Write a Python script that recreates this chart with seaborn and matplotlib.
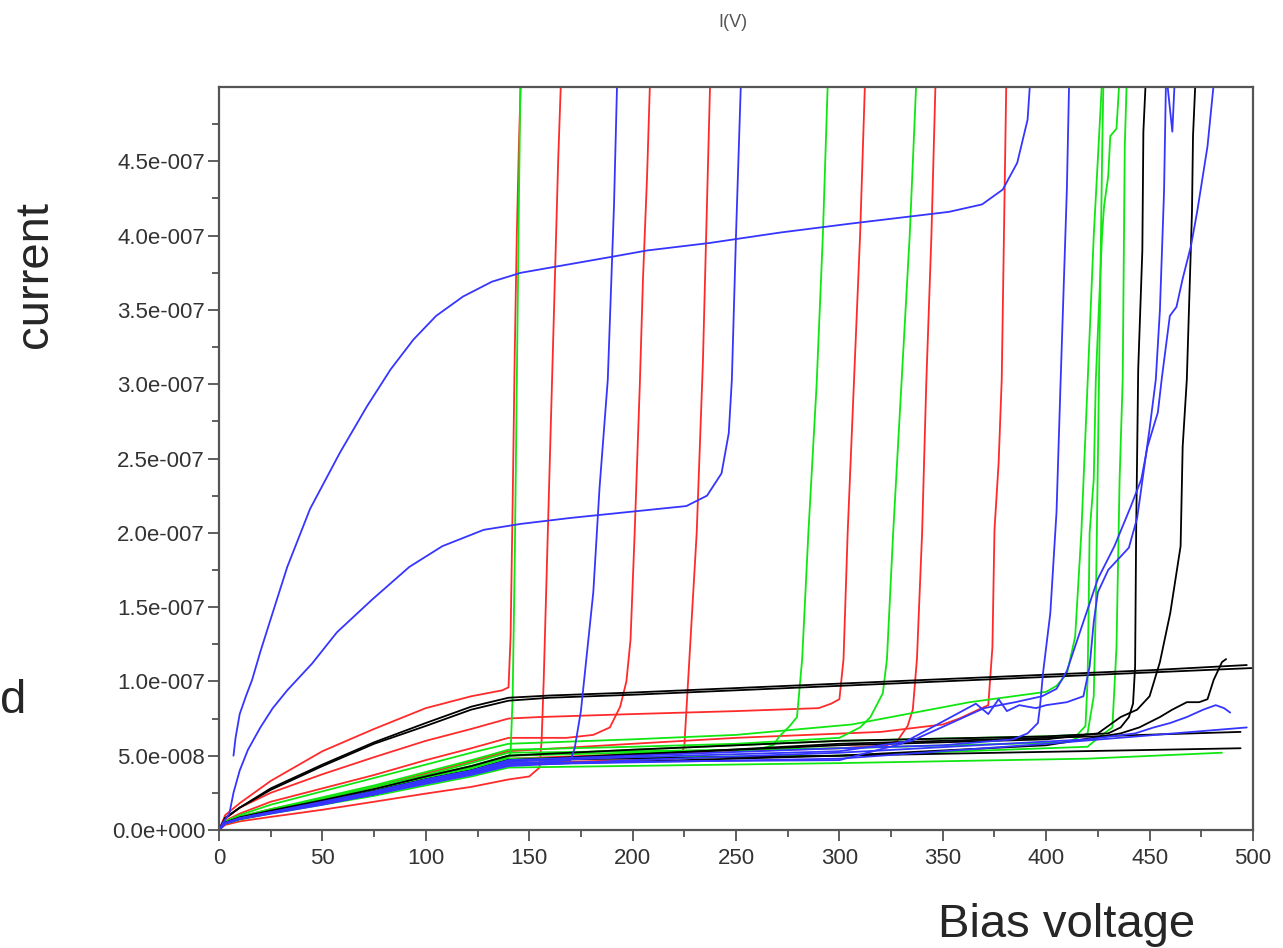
import matplotlib
matplotlib.use("Agg")
import numpy as np
import pandas as pd
import matplotlib.pyplot as plt
import seaborn as sns
from matplotlib.ticker import MultipleLocator, FixedLocator, FuncFormatter

# rise part of every curve is sampled on the same voltage steps
rise_v = [0, 3, 10, 25, 50, 75, 100, 122, 140]

# current values in units of 1e-7 A
r1_v = rise_v[:-1] + [137, 140, 141, 142, 143, 144, 145, 146.5]
r1_i = [0, 0.1, 0.18, 0.33, 0.53, 0.68, 0.82, 0.9, 0.94, 0.96, 1.3, 2.2, 3.2, 4.0, 4.6, 5.3]

k1_v = rise_v + [160, 200, 250, 300, 350, 400, 450, 500]
k1_i = [0, 0.08, 0.15, 0.27, 0.43, 0.58, 0.7, 0.81, 0.87, 0.89, 0.91, 0.94, 0.97, 1.0, 1.03, 1.06, 1.09]
k2_v = rise_v + [160, 200, 250, 300, 350, 400, 450, 497]
k2_i = [0, 0.08, 0.15, 0.28, 0.44, 0.59, 0.72, 0.83, 0.89, 0.905, 0.925, 0.955, 0.985, 1.015, 1.045, 1.075, 1.11]

r5_v = rise_v + [155, 200, 250, 290, 296, 300, 302, 304, 307, 310, 313]
r5_i = [0, 0.075, 0.15, 0.25, 0.375, 0.49, 0.6, 0.68, 0.75, 0.76, 0.78, 0.8, 0.82, 0.85, 0.88, 1.15, 2.0, 3.0, 4.0, 5.3]

r3_v = rise_v + [168, 181, 189, 194, 197, 199, 201, 203.5, 205, 207, 209]
r3_i = [0, 0.062, 0.11, 0.19, 0.28, 0.37, 0.47, 0.55, 0.62, 0.62, 0.64, 0.69, 0.83, 1.0, 1.28, 2.0, 3.0, 3.7, 4.4, 5.3]

gd_v = rise_v + [200, 250, 306, 363, 400, 405, 410, 414, 417, 420, 423, 428]
gd_i = [0, 0.058, 0.1, 0.17, 0.26, 0.35, 0.44, 0.52, 0.58, 0.61, 0.64, 0.71, 0.86, 0.93, 0.97, 1.05, 1.3, 2.0, 3.0, 4.0, 5.3]

g3_v = rise_v + [200, 250, 300, 310, 315, 321, 323, 326, 330, 334, 338]
g3_i = [0, 0.054, 0.09, 0.14, 0.22, 0.3, 0.39, 0.47, 0.54, 0.56, 0.58, 0.62, 0.69, 0.76, 0.92, 1.15, 2.0, 3.0, 4.0, 5.3]

r7_v = rise_v + [200, 250, 320, 350, 358, 372, 374, 375, 377, 378.5, 381]
r7_i = [0, 0.053, 0.09, 0.14, 0.21, 0.29, 0.38, 0.46, 0.53, 0.58, 0.62, 0.66, 0.71, 0.75, 0.84, 1.23, 2.02, 2.47, 3.03, 5.3]

r6_v = rise_v + [200, 300, 323, 328, 333, 335.5, 337.5, 340, 342, 344.5, 347]
r6_i = [0, 0.048, 0.08, 0.125, 0.19, 0.265, 0.345, 0.41, 0.48, 0.51, 0.55, 0.57, 0.6, 0.7, 0.81, 1.15, 2.0, 3.0, 4.0, 5.3]

r4_v = rise_v + [200, 220, 223, 225, 226, 228, 231, 234, 236.5, 238]
r4_i = [0, 0.045, 0.077, 0.117, 0.18, 0.25, 0.32, 0.39, 0.45, 0.47, 0.48, 0.5, 0.56, 0.8, 1.28, 2.0, 3.15, 4.5, 5.3]

r2_v = rise_v + [150, 155, 156, 157, 158, 160, 162, 164, 166]
r2_i = [0, 0.034, 0.058, 0.088, 0.136, 0.19, 0.245, 0.29, 0.34, 0.36, 0.42, 0.6, 1.0, 1.5, 2.5, 3.5, 4.5, 5.3]

g1_v = rise_v + [141, 142, 143, 144, 145, 146]
g1_i = [0, 0.049, 0.083, 0.127, 0.196, 0.27, 0.35, 0.42, 0.49, 0.52, 0.9, 1.8, 3.0, 4.2, 5.3]

b3_v = rise_v + [160, 170, 172, 175, 178, 181, 184, 188, 191, 193]
b3_i = [0, 0.044, 0.075, 0.114, 0.176, 0.24, 0.32, 0.38, 0.44, 0.46, 0.47, 0.55, 0.8, 1.2, 1.6, 2.3, 3.03, 4.2, 5.3]

g2_v = rise_v + [200, 260, 268, 271, 276, 279.5, 282, 285, 289, 292, 295]
g2_i = [0, 0.05, 0.085, 0.13, 0.2, 0.275, 0.36, 0.43, 0.5, 0.52, 0.54, 0.57, 0.63, 0.7, 0.76, 1.15, 2.0, 3.0, 4.0, 5.3]

b1_v = [7, 8, 10, 13, 16, 20, 25, 33, 44, 58.5, 71.5, 83, 94, 105, 118, 132, 146, 191, 207, 237, 271,
        305, 353, 369, 379, 386, 391, 393.5]
b1_i = [0.5, 0.62, 0.78, 0.9, 1.01, 1.2, 1.42, 1.77, 2.16, 2.54, 2.85, 3.1, 3.3, 3.46, 3.59, 3.69, 3.75,
        3.86, 3.9, 3.95, 4.02, 4.08, 4.16, 4.21, 4.31, 4.49, 4.78, 5.3]

b2_v = [0, 2, 5, 7, 10, 14, 20, 26, 33, 45, 57, 74, 92, 108, 128, 146, 170, 205, 226, 236, 243, 246.5,
        248, 250, 253]
b2_i = [0, 0.05, 0.11, 0.25, 0.4, 0.54, 0.69, 0.82, 0.94, 1.12, 1.33, 1.55, 1.77, 1.91, 2.02, 2.06,
        2.1, 2.15, 2.18, 2.25, 2.4, 2.67, 3.03, 4.0, 5.3]

b4_v = rise_v + [200, 300, 350, 384, 391, 396, 397, 398.5, 402, 405, 407, 410, 411.5]
b4_i = [0, 0.047, 0.08, 0.12, 0.19, 0.26, 0.34, 0.4, 0.47, 0.5, 0.55, 0.57, 0.61, 0.65, 0.72, 0.83,
        1.06, 1.46, 2.14, 3.03, 4.31, 5.3]

b5_v = rise_v + [200, 300, 330, 366, 372, 377, 381, 387, 395, 400, 410, 418, 421, 423, 425, 430, 440,
                 444, 447, 450, 453, 455, 457, 458, 461, 463]
b5_i = [0, 0.045, 0.077, 0.117, 0.18, 0.25, 0.32, 0.39, 0.45, 0.46, 0.47, 0.58, 0.85, 0.78, 0.88, 0.8,
        0.84, 0.82, 0.84, 0.86, 0.9, 1.1, 1.4, 1.6, 1.75, 1.9, 2.1, 2.4, 2.7, 3.03, 3.5, 4.3, 5.1, 4.7, 5.3]

b6_v = rise_v + [200, 300, 335, 370, 385, 398, 405, 410, 417, 425, 433, 441, 446, 449, 454, 456, 459.8,
                 463, 466, 470, 473, 478, 483]
b6_i = [0, 0.046, 0.078, 0.12, 0.18, 0.25, 0.33, 0.39, 0.46, 0.49, 0.53, 0.6, 0.82, 0.86, 0.9, 0.95,
        1.07, 1.36, 1.69, 1.91, 2.18, 2.36, 2.58, 2.81, 3.05, 3.46, 3.52, 3.71, 3.93, 4.16, 4.6, 5.3]

ge_v = rise_v + [200, 300, 400, 415, 419, 420, 420.5, 421, 423, 424, 427, 428, 430, 431, 434, 436.5]
ge_i = [0, 0.05, 0.085, 0.13, 0.2, 0.275, 0.36, 0.43, 0.5, 0.54, 0.6, 0.63, 0.64, 0.7, 1.0, 1.46, 2.0,
        2.36, 3.03, 4.0, 4.2, 4.4, 4.67, 4.72, 5.3]

gf_v = rise_v + [200, 300, 410, 420, 423, 424, 425, 426, 427, 428]
gf_i = [0, 0.052, 0.088, 0.135, 0.21, 0.29, 0.37, 0.45, 0.52, 0.53, 0.55, 0.59, 0.65, 0.9, 1.5, 2.5,
        3.5, 4.5, 5.3]

gg_v = rise_v + [200, 300, 420, 426, 432, 434, 435.5, 437, 438, 439.5]
gg_i = [0, 0.048, 0.08, 0.125, 0.19, 0.265, 0.345, 0.41, 0.48, 0.49, 0.5, 0.56, 0.63, 0.69, 1.23,
        2.36, 3.03, 4.6, 5.3]

ka_v = rise_v + [200, 300, 400, 430, 436, 440, 442, 443, 443.5, 444.5, 446.5, 447, 449]
ka_i = [0, 0.05, 0.085, 0.13, 0.2, 0.275, 0.36, 0.43, 0.5, 0.54, 0.6, 0.63, 0.65, 0.69, 0.76, 0.85,
        1.1, 2.0, 3.1, 3.9, 4.7, 5.3]

kb_v = rise_v + [200, 300, 400, 425, 429, 436, 444, 450, 455, 460, 465, 466, 468, 470.5, 471, 473]
kb_i = [0, 0.047, 0.08, 0.12, 0.19, 0.26, 0.34, 0.4, 0.47, 0.51, 0.57, 0.61, 0.65, 0.69, 0.76, 0.81,
        0.9, 1.13, 1.46, 1.91, 2.58, 3.03, 4.16, 4.67, 5.3]

kc_v = rise_v + [200, 300, 400, 436, 445, 455, 461, 468, 474, 478, 481, 485, 487]
kc_i = [0, 0.044, 0.075, 0.114, 0.176, 0.24, 0.32, 0.38, 0.44, 0.46, 0.5, 0.57, 0.65, 0.69, 0.76,
        0.81, 0.86, 0.86, 0.88, 1.01, 1.13, 1.15]

b7_v = rise_v + [200, 300, 420, 443, 452, 460, 468, 476, 482, 486, 489]
b7_i = [0, 0.043, 0.073, 0.11, 0.17, 0.24, 0.31, 0.37, 0.43, 0.47, 0.52, 0.61, 0.65, 0.69, 0.72, 0.76,
        0.81, 0.84, 0.82, 0.79]

kd_v = rise_v + [300, 494]
kd_i = [0, 0.047, 0.08, 0.12, 0.19, 0.26, 0.34, 0.4, 0.47, 0.5, 0.55]

gl_v = rise_v + [300, 420, 485]
gl_i = [0, 0.042, 0.07, 0.11, 0.17, 0.23, 0.3, 0.36, 0.42, 0.45, 0.48, 0.52]

b8_v = rise_v + [300, 400, 497]
b8_i = [0, 0.044, 0.075, 0.114, 0.176, 0.24, 0.32, 0.38, 0.44, 0.48, 0.58, 0.69]

ke_v = rise_v + [300, 400, 494]
ke_i = [0, 0.046, 0.078, 0.12, 0.18, 0.25, 0.33, 0.39, 0.46, 0.58, 0.62, 0.66]

RED, GREEN, BLUE, BLACK = "#ff2a2a", "#10e610", "#3535ff", "#000000"

curves = [
    ("r1", RED, r1_v, r1_i), ("r5", RED, r5_v, r5_i), ("r3", RED, r3_v, r3_i),
    ("r7", RED, r7_v, r7_i), ("r6", RED, r6_v, r6_i), ("r4", RED, r4_v, r4_i),
    ("r2", RED, r2_v, r2_i),
    ("g1", GREEN, g1_v, g1_i), ("gd", GREEN, gd_v, gd_i), ("g3", GREEN, g3_v, g3_i),
    ("g2", GREEN, g2_v, g2_i), ("ge", GREEN, ge_v, ge_i), ("gf", GREEN, gf_v, gf_i),
    ("gg", GREEN, gg_v, gg_i), ("gl", GREEN, gl_v, gl_i),
    ("k1", BLACK, k1_v, k1_i), ("k2", BLACK, k2_v, k2_i), ("ka", BLACK, ka_v, ka_i),
    ("kb", BLACK, kb_v, kb_i), ("kc", BLACK, kc_v, kc_i), ("kd", BLACK, kd_v, kd_i),
    ("ke", BLACK, ke_v, ke_i),
    ("b1", BLUE, b1_v, b1_i), ("b2", BLUE, b2_v, b2_i), ("b3", BLUE, b3_v, b3_i),
    ("b4", BLUE, b4_v, b4_i), ("b5", BLUE, b5_v, b5_i), ("b6", BLUE, b6_v, b6_i),
    ("b7", BLUE, b7_v, b7_i), ("b8", BLUE, b8_v, b8_i),
]

frames = []
for name, col, v, i in curves:
    frames.append(pd.DataFrame({"V": v, "I": np.array(i) * 1e-7, "curve": name}))
df = pd.concat(frames, ignore_index=True)
palette = {name: col for name, col, _, _ in curves}

sns.set_style("white")
plt.rcParams["font.family"] = ["Liberation Sans", "DejaVu Sans"]

fig = plt.figure(figsize=(12.83, 9.48), dpi=100)
ax = fig.add_axes([0.1707, 0.1245, 0.8059, 0.7837])

sns.lineplot(data=df, x="V", y="I", hue="curve", units="curve", estimator=None,
             sort=False, palette=palette, legend=False, linewidth=1.3, ax=ax)

ax.set_xlim(0, 500)
ax.set_ylim(0, 5.0e-7)


def sci3(v, pos):
    m, e = f"{v:.1e}".split("e")
    e = int(e)
    return f"{m}e{'-' if e < 0 else '+'}{abs(e):03d}"


ax.xaxis.set_major_locator(MultipleLocator(50))
ax.xaxis.set_minor_locator(MultipleLocator(25))
ax.yaxis.set_major_locator(FixedLocator(np.arange(0, 10) * 0.5e-7))
ax.yaxis.set_minor_locator(FixedLocator(np.arange(0, 20) * 0.25e-7))
ax.yaxis.set_major_formatter(FuncFormatter(sci3))
ax.tick_params(which="major", direction="out", length=8, width=1.2, color="#444444",
               labelsize=16, labelcolor="#333333", pad=2)
ax.tick_params(which="minor", direction="out", length=5, width=1.2, color="#444444")
ax.tick_params(axis="x", which="major", pad=5)
ax.tick_params(bottom=True, left=True, which="both")
for s in ax.spines.values():
    s.set_color("#555555")
    s.set_linewidth(1.6)

ax.set_xlabel("")
ax.set_ylabel("")
fig.text(0.5713, 0.976, "I(V)", ha="center", va="center", fontsize=13, color="#555555")
fig.text(0.027, 0.71, "current", rotation=90, ha="center", va="center", fontsize=34)
fig.text(0.0, 0.261, "d", ha="left", va="center", fontsize=34)
fig.text(0.831, 0.024, "Bias voltage", ha="center", va="center", fontsize=34)

fig.savefig("out.png", dpi=100)
